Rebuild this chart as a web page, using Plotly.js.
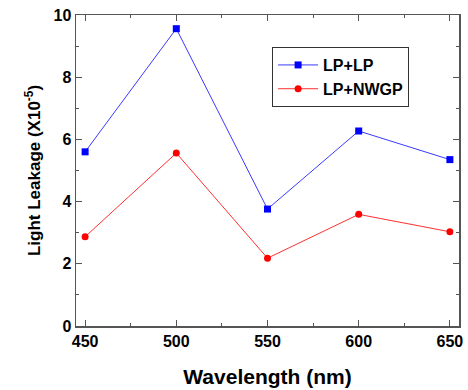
<!DOCTYPE html>
<html><head><meta charset="utf-8">
<script src="https://cdn.plot.ly/plotly-3.0.1.min.js"></script>
<style>html,body{margin:0;padding:0;background:#fff}#c{width:468px;height:390px}</style>
</head><body><div id="c"></div>
<script>
const wavelengths = [450, 500, 550, 600, 650];
const lpLp = [5.60, 9.56, 3.76, 6.27, 5.35];
const lpNwgp = [2.87, 5.56, 2.18, 3.59, 3.03];
const seriesNames = ['LP+LP', 'LP+NWGP'];

const fnt = {family: 'Liberation Sans, Arial, sans-serif', color: '#000'};
const data = [
  {x: wavelengths, y: lpLp, name: seriesNames[0], mode: 'lines+markers', type: 'scatter',
   line: {color: '#3a3aff', width: 1}, marker: {symbol: 'square', size: 7, color: '#0000ff'}},
  {x: wavelengths, y: lpNwgp, name: seriesNames[1], mode: 'lines+markers', type: 'scatter',
   line: {color: '#ff3030', width: 1}, marker: {symbol: 'circle', size: 7, color: '#ff0000'}}
];
const axBase = {showline: true, linecolor: '#555', linewidth: 1.5, mirror: 'ticks', ticks: 'inside',
  ticklen: 6, tickcolor: '#555', showgrid: false, zeroline: false,
  tickfont: Object.assign({}, fnt, {size: 16, weight: 'bold'})};
const layout = {
  width: 468, height: 390, margin: {l: 76, r: 9, t: 15, b: 64},
  paper_bgcolor: '#fff', plot_bgcolor: '#fff', showlegend: true,
  xaxis: Object.assign({}, axBase, {range: [445, 655], dtick: 50, tick0: 450,
    minor: {dtick: 25, ticks: 'inside', ticklen: 3, tickcolor: '#555'},
    title: {text: '<b>Wavelength (nm)</b>', font: Object.assign({}, fnt, {size: 21}), standoff: 20}}),
  yaxis: Object.assign({}, axBase, {range: [0, 10], dtick: 2,
    minor: {dtick: 1, ticks: 'inside', ticklen: 3, tickcolor: '#555'},
    title: {text: '<b>Light Leakage (X10<sup>-5</sup>)</b>', font: Object.assign({}, fnt, {size: 17}), standoff: 8}}),
  legend: {x: 0.512, y: 0.897, xanchor: 'left', yanchor: 'top', bordercolor: '#333', borderwidth: 1,
    bgcolor: '#fff', itemwidth: 40, font: Object.assign({}, fnt, {size: 16, weight: 'bold'}), tracegroupgap: 0}
};
Plotly.newPlot('c', data, layout, {displayModeBar: false, staticPlot: true});
</script></body></html>
